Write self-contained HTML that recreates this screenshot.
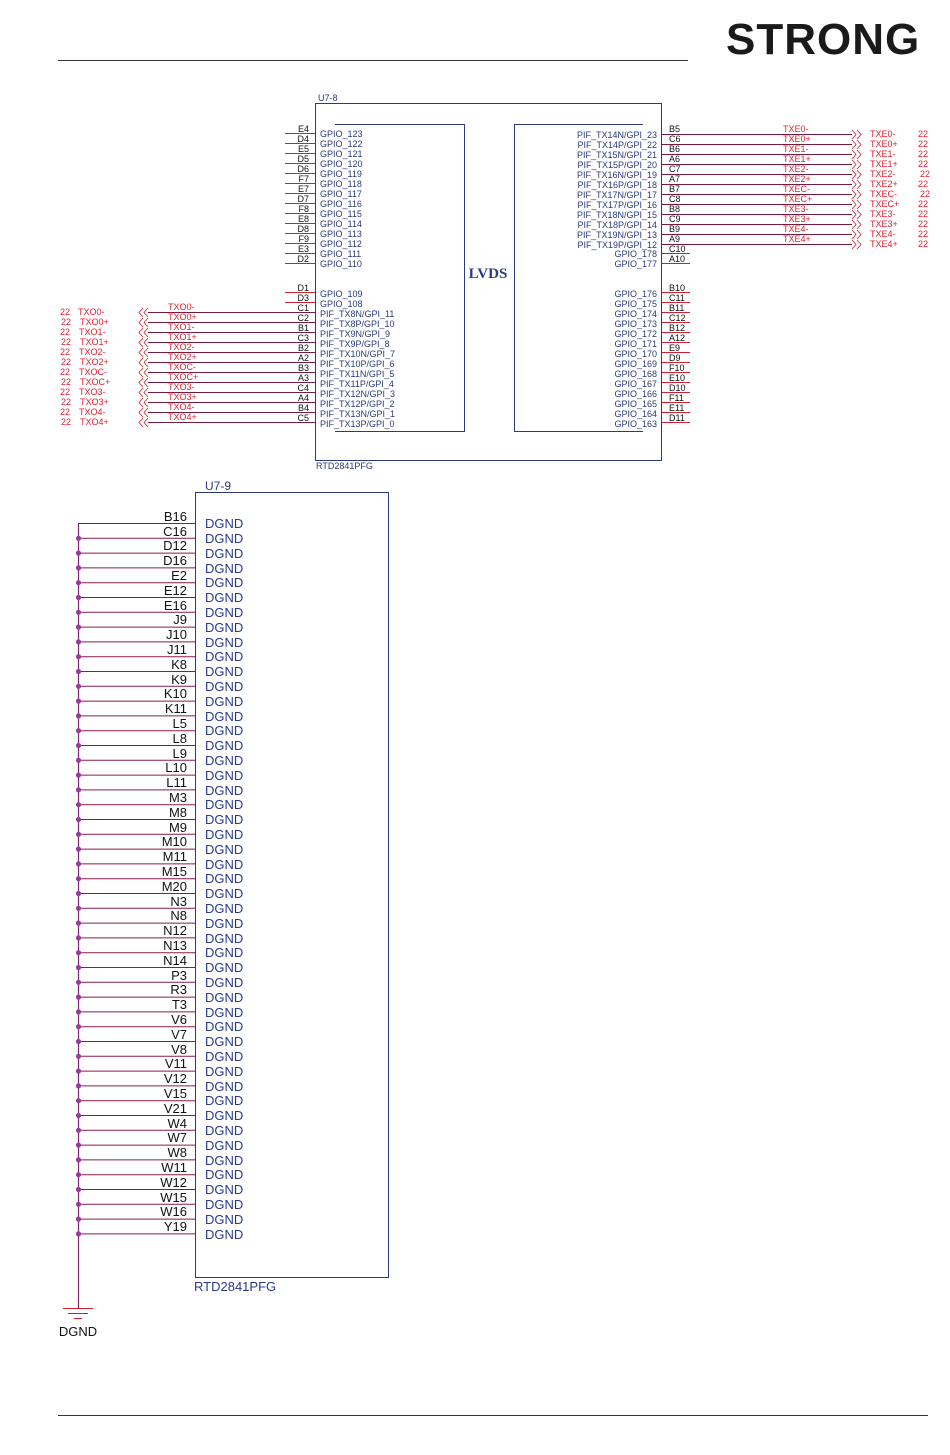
<!DOCTYPE html>
<html><head><meta charset="utf-8"><style>
html,body{margin:0;padding:0;background:#fff}
svg{display:block}
.s{font-family:"Liberation Sans",sans-serif;font-size:9px;fill:#2a3a7a}
.p{font-family:"Liberation Sans",sans-serif;font-size:9px;fill:#111}
.r{font-family:"Liberation Sans",sans-serif;font-size:9px;fill:#e02030}
.b{font-family:"Liberation Sans",sans-serif;font-size:13px;fill:#111}
.d{font-family:"Liberation Sans",sans-serif;font-size:13px;fill:#2a3a8a}
.w{stroke:#7a1a3a;stroke-width:1}
.st{stroke:#d02030;stroke-width:1}
</style></head><body>
<svg width="950" height="1455" viewBox="0 0 950 1455" xmlns="http://www.w3.org/2000/svg">
<text x="726" y="54" font-family="Liberation Sans,sans-serif" font-weight="bold" font-size="44" fill="#1a1a1a" letter-spacing="1">STRONG</text>
<line x1="58" y1="60.5" x2="688" y2="60.5" stroke="#333" stroke-width="1"/>
<line x1="58" y1="1415.5" x2="928" y2="1415.5" stroke="#333" stroke-width="1"/>

<!-- U7-8 -->
<text class="s" x="318" y="101">U7-8</text>
<rect x="315.5" y="103.5" width="346" height="357" fill="none" stroke="#2a3a7a"/>
<polyline points="335,124.5 464.5,124.5 464.5,431.5 335,431.5" fill="none" stroke="#2a3a7a"/>
<polyline points="643,124.5 514.5,124.5 514.5,431.5 643,431.5" fill="none" stroke="#2a3a7a"/>
<text x="488" y="278" text-anchor="middle" font-family="Liberation Serif,serif" font-weight="bold" font-size="15" fill="#2a3a8a">LVDS</text>
<text class="s" x="316" y="469">RTD2841PFG</text>

<g class="st">
<line x1="285" y1="133.5" x2="315" y2="133.5"/><line x1="285" y1="143.5" x2="315" y2="143.5"/><line x1="285" y1="153.5" x2="315" y2="153.5"/><line x1="285" y1="163.5" x2="315" y2="163.5"/><line x1="285" y1="173.5" x2="315" y2="173.5"/><line x1="285" y1="183.5" x2="315" y2="183.5"/><line x1="285" y1="193.5" x2="315" y2="193.5"/><line x1="285" y1="203.5" x2="315" y2="203.5"/><line x1="285" y1="213.5" x2="315" y2="213.5"/><line x1="285" y1="223.5" x2="315" y2="223.5"/><line x1="285" y1="233.5" x2="315" y2="233.5"/><line x1="285" y1="243.5" x2="315" y2="243.5"/><line x1="285" y1="253.5" x2="315" y2="253.5"/><line x1="285" y1="263.5" x2="315" y2="263.5"/>
<line x1="285" y1="292.5" x2="315" y2="292.5"/><line x1="285" y1="302.5" x2="315" y2="302.5"/>
<line x1="662" y1="253.5" x2="690" y2="253.5"/><line x1="662" y1="263.5" x2="690" y2="263.5"/>
<line x1="662" y1="292.5" x2="690" y2="292.5"/><line x1="662" y1="302.5" x2="690" y2="302.5"/><line x1="662" y1="312.5" x2="690" y2="312.5"/><line x1="662" y1="322.5" x2="690" y2="322.5"/><line x1="662" y1="332.5" x2="690" y2="332.5"/><line x1="662" y1="342.5" x2="690" y2="342.5"/><line x1="662" y1="352.5" x2="690" y2="352.5"/><line x1="662" y1="362.5" x2="690" y2="362.5"/><line x1="662" y1="372.5" x2="690" y2="372.5"/><line x1="662" y1="382.5" x2="690" y2="382.5"/><line x1="662" y1="392.5" x2="690" y2="392.5"/><line x1="662" y1="402.5" x2="690" y2="402.5"/><line x1="662" y1="412.5" x2="690" y2="412.5"/><line x1="662" y1="422.5" x2="690" y2="422.5"/>
</g>
<g class="w">
<line x1="148" y1="312.5" x2="315" y2="312.5"/><line x1="148" y1="322.5" x2="315" y2="322.5"/><line x1="148" y1="332.5" x2="315" y2="332.5"/><line x1="148" y1="342.5" x2="315" y2="342.5"/><line x1="148" y1="352.5" x2="315" y2="352.5"/><line x1="148" y1="362.5" x2="315" y2="362.5"/><line x1="148" y1="372.5" x2="315" y2="372.5"/><line x1="148" y1="382.5" x2="315" y2="382.5"/><line x1="148" y1="392.5" x2="315" y2="392.5"/><line x1="148" y1="402.5" x2="315" y2="402.5"/><line x1="148" y1="412.5" x2="315" y2="412.5"/><line x1="148" y1="422.5" x2="315" y2="422.5"/>
<line x1="662" y1="134.5" x2="852" y2="134.5"/><line x1="662" y1="144.5" x2="852" y2="144.5"/><line x1="662" y1="154.5" x2="852" y2="154.5"/><line x1="662" y1="164.5" x2="852" y2="164.5"/><line x1="662" y1="174.5" x2="852" y2="174.5"/><line x1="662" y1="184.5" x2="852" y2="184.5"/><line x1="662" y1="194.5" x2="852" y2="194.5"/><line x1="662" y1="204.5" x2="852" y2="204.5"/><line x1="662" y1="214.5" x2="852" y2="214.5"/><line x1="662" y1="224.5" x2="852" y2="224.5"/><line x1="662" y1="234.5" x2="852" y2="234.5"/><line x1="662" y1="244.5" x2="852" y2="244.5"/>
</g>
<!-- chevrons -->
<g fill="none" stroke="#d02030" stroke-width="0.8">
<path d="M143,308 l-4,4.5 l4,4.5 M148,308 l-4,4.5 l4,4.5"/><path d="M143,318 l-4,4.5 l4,4.5 M148,318 l-4,4.5 l4,4.5"/><path d="M143,328 l-4,4.5 l4,4.5 M148,328 l-4,4.5 l4,4.5"/><path d="M143,338 l-4,4.5 l4,4.5 M148,338 l-4,4.5 l4,4.5"/><path d="M143,348 l-4,4.5 l4,4.5 M148,348 l-4,4.5 l4,4.5"/><path d="M143,358 l-4,4.5 l4,4.5 M148,358 l-4,4.5 l4,4.5"/><path d="M143,368 l-4,4.5 l4,4.5 M148,368 l-4,4.5 l4,4.5"/><path d="M143,378 l-4,4.5 l4,4.5 M148,378 l-4,4.5 l4,4.5"/><path d="M143,388 l-4,4.5 l4,4.5 M148,388 l-4,4.5 l4,4.5"/><path d="M143,398 l-4,4.5 l4,4.5 M148,398 l-4,4.5 l4,4.5"/><path d="M143,408 l-4,4.5 l4,4.5 M148,408 l-4,4.5 l4,4.5"/><path d="M143,418 l-4,4.5 l4,4.5 M148,418 l-4,4.5 l4,4.5"/>
<path d="M852,130 l4,4.5 l-4,4.5 M857,130 l4,4.5 l-4,4.5"/><path d="M852,140 l4,4.5 l-4,4.5 M857,140 l4,4.5 l-4,4.5"/><path d="M852,150 l4,4.5 l-4,4.5 M857,150 l4,4.5 l-4,4.5"/><path d="M852,160 l4,4.5 l-4,4.5 M857,160 l4,4.5 l-4,4.5"/><path d="M852,170 l4,4.5 l-4,4.5 M857,170 l4,4.5 l-4,4.5"/><path d="M852,180 l4,4.5 l-4,4.5 M857,180 l4,4.5 l-4,4.5"/><path d="M852,190 l4,4.5 l-4,4.5 M857,190 l4,4.5 l-4,4.5"/><path d="M852,200 l4,4.5 l-4,4.5 M857,200 l4,4.5 l-4,4.5"/><path d="M852,210 l4,4.5 l-4,4.5 M857,210 l4,4.5 l-4,4.5"/><path d="M852,220 l4,4.5 l-4,4.5 M857,220 l4,4.5 l-4,4.5"/><path d="M852,230 l4,4.5 l-4,4.5 M857,230 l4,4.5 l-4,4.5"/><path d="M852,240 l4,4.5 l-4,4.5 M857,240 l4,4.5 l-4,4.5"/>
</g>

<!-- left pin numbers -->
<g class="p" text-anchor="end">
<text x="309" y="132">E4</text><text x="309" y="142">D4</text><text x="309" y="152">E5</text><text x="309" y="162">D5</text><text x="309" y="172">D6</text><text x="309" y="182">F7</text><text x="309" y="192">E7</text><text x="309" y="202">D7</text><text x="309" y="212">F8</text><text x="309" y="222">E8</text><text x="309" y="232">D8</text><text x="309" y="242">F9</text><text x="309" y="252">E3</text><text x="309" y="262">D2</text>
<text x="309" y="291">D1</text><text x="309" y="301">D3</text><text x="309" y="311">C1</text><text x="309" y="321">C2</text><text x="309" y="331">B1</text><text x="309" y="341">C3</text><text x="309" y="351">B2</text><text x="309" y="361">A2</text><text x="309" y="371">B3</text><text x="309" y="381">A3</text><text x="309" y="391">C4</text><text x="309" y="401">A4</text><text x="309" y="411">B4</text><text x="309" y="421">C5</text>
</g>
<g class="s">
<text x="320" y="137">GPIO_123</text><text x="320" y="147">GPIO_122</text><text x="320" y="157">GPIO_121</text><text x="320" y="167">GPIO_120</text><text x="320" y="177">GPIO_119</text><text x="320" y="187">GPIO_118</text><text x="320" y="197">GPIO_117</text><text x="320" y="207">GPIO_116</text><text x="320" y="217">GPIO_115</text><text x="320" y="227">GPIO_114</text><text x="320" y="237">GPIO_113</text><text x="320" y="247">GPIO_112</text><text x="320" y="257">GPIO_111</text><text x="320" y="267">GPIO_110</text>
<text x="320" y="297">GPIO_109</text><text x="320" y="307">GPIO_108</text><text x="320" y="317">PIF_TX8N/GPI_11</text><text x="320" y="327">PIF_TX8P/GPI_10</text><text x="320" y="337">PIF_TX9N/GPI_9</text><text x="320" y="347">PIF_TX9P/GPI_8</text><text x="320" y="357">PIF_TX10N/GPI_7</text><text x="320" y="367">PIF_TX10P/GPI_6</text><text x="320" y="377">PIF_TX11N/GPI_5</text><text x="320" y="387">PIF_TX11P/GPI_4</text><text x="320" y="397">PIF_TX12N/GPI_3</text><text x="320" y="407">PIF_TX12P/GPI_2</text><text x="320" y="417">PIF_TX13N/GPI_1</text><text x="320" y="427">PIF_TX13P/GPI_0</text>
</g>
<g class="s" text-anchor="end">
<text x="657" y="138">PIF_TX14N/GPI_23</text><text x="657" y="148">PIF_TX14P/GPI_22</text><text x="657" y="158">PIF_TX15N/GPI_21</text><text x="657" y="168">PIF_TX15P/GPI_20</text><text x="657" y="178">PIF_TX16N/GPI_19</text><text x="657" y="188">PIF_TX16P/GPI_18</text><text x="657" y="198">PIF_TX17N/GPI_17</text><text x="657" y="208">PIF_TX17P/GPI_16</text><text x="657" y="218">PIF_TX18N/GPI_15</text><text x="657" y="228">PIF_TX18P/GPI_14</text><text x="657" y="238">PIF_TX19N/GPI_13</text><text x="657" y="248">PIF_TX19P/GPI_12</text><text x="657" y="257">GPIO_178</text><text x="657" y="267">GPIO_177</text>
<text x="657" y="297">GPIO_176</text><text x="657" y="307">GPIO_175</text><text x="657" y="317">GPIO_174</text><text x="657" y="327">GPIO_173</text><text x="657" y="337">GPIO_172</text><text x="657" y="347">GPIO_171</text><text x="657" y="357">GPIO_170</text><text x="657" y="367">GPIO_169</text><text x="657" y="377">GPIO_168</text><text x="657" y="387">GPIO_167</text><text x="657" y="397">GPIO_166</text><text x="657" y="407">GPIO_165</text><text x="657" y="417">GPIO_164</text><text x="657" y="427">GPIO_163</text>
</g>
<g class="p">
<text x="669" y="132">B5</text><text x="669" y="142">C6</text><text x="669" y="152">B6</text><text x="669" y="162">A6</text><text x="669" y="172">C7</text><text x="669" y="182">A7</text><text x="669" y="192">B7</text><text x="669" y="202">C8</text><text x="669" y="212">B8</text><text x="669" y="222">C9</text><text x="669" y="232">B9</text><text x="669" y="242">A9</text><text x="669" y="252">C10</text><text x="669" y="262">A10</text>
<text x="669" y="291">B10</text><text x="669" y="301">C11</text><text x="669" y="311">B11</text><text x="669" y="321">C12</text><text x="669" y="331">B12</text><text x="669" y="341">A12</text><text x="669" y="351">E9</text><text x="669" y="361">D9</text><text x="669" y="371">F10</text><text x="669" y="381">E10</text><text x="669" y="391">D10</text><text x="669" y="401">F11</text><text x="669" y="411">E11</text><text x="669" y="421">D11</text>
</g>
<!-- net labels -->
<g class="r">
<text x="168" y="310">TXO0-</text><text x="168" y="320">TXO0+</text><text x="168" y="330">TXO1-</text><text x="168" y="340">TXO1+</text><text x="168" y="350">TXO2-</text><text x="168" y="360">TXO2+</text><text x="168" y="370">TXOC-</text><text x="168" y="380">TXOC+</text><text x="168" y="390">TXO3-</text><text x="168" y="400">TXO3+</text><text x="168" y="410">TXO4-</text><text x="168" y="420">TXO4+</text>
<text x="60" y="315">22</text><text x="78" y="315">TXO0-</text><text x="61" y="325">22</text><text x="80" y="325">TXO0+</text><text x="60" y="335">22</text><text x="79" y="335">TXO1-</text><text x="61" y="345">22</text><text x="80" y="345">TXO1+</text><text x="60" y="355">22</text><text x="79" y="355">TXO2-</text><text x="61" y="365">22</text><text x="80" y="365">TXO2+</text><text x="60" y="375">22</text><text x="79" y="375">TXOC-</text><text x="61" y="385">22</text><text x="80" y="385">TXOC+</text><text x="60" y="395">22</text><text x="79" y="395">TXO3-</text><text x="61" y="405">22</text><text x="80" y="405">TXO3+</text><text x="60" y="415">22</text><text x="79" y="415">TXO4-</text><text x="61" y="425">22</text><text x="80" y="425">TXO4+</text>
<text x="783" y="132">TXE0-</text><text x="783" y="142">TXE0+</text><text x="783" y="152">TXE1-</text><text x="783" y="162">TXE1+</text><text x="783" y="172">TXE2-</text><text x="783" y="182">TXE2+</text><text x="783" y="192">TXEC-</text><text x="783" y="202">TXEC+</text><text x="783" y="212">TXE3-</text><text x="783" y="222">TXE3+</text><text x="783" y="232">TXE4-</text><text x="783" y="242">TXE4+</text>
<text x="870" y="137">TXE0-</text><text x="918" y="137">22</text><text x="870" y="147">TXE0+</text><text x="918" y="147">22</text><text x="870" y="157">TXE1-</text><text x="918" y="157">22</text><text x="870" y="167">TXE1+</text><text x="918" y="167">22</text><text x="870" y="177">TXE2-</text><text x="920" y="177">22</text><text x="870" y="187">TXE2+</text><text x="918" y="187">22</text><text x="870" y="197">TXEC-</text><text x="920" y="197">22</text><text x="870" y="207">TXEC+</text><text x="918" y="207">22</text><text x="870" y="217">TXE3-</text><text x="918" y="217">22</text><text x="870" y="227">TXE3+</text><text x="918" y="227">22</text><text x="870" y="237">TXE4-</text><text x="918" y="237">22</text><text x="870" y="247">TXE4+</text><text x="918" y="247">22</text>
</g>

<!-- U7-9 -->
<text x="205" y="490" font-family="Liberation Sans,sans-serif" font-size="12" fill="#2a3a8a">U7-9</text>
<rect x="195.5" y="492.5" width="193" height="785" fill="none" stroke="#2a3a7a"/>
<text x="194" y="1291" font-family="Liberation Sans,sans-serif" font-size="13" fill="#2a3a8a">RTD2841PFG</text>
<line x1="78.5" y1="523" x2="78.5" y2="1308" stroke="#7a2a6a" stroke-width="1.2"/>
<line x1="63" y1="1308.5" x2="93" y2="1308.5" stroke="#d02030"/>
<line x1="68" y1="1313.5" x2="88" y2="1313.5" stroke="#d02030"/>
<line x1="74" y1="1318.5" x2="82" y2="1318.5" stroke="#d02030"/>
<text x="78" y="1336" text-anchor="middle" class="b">DGND</text>
<g stroke="#8a1a4a" stroke-width="1">
<line x1="78" y1="523.5" x2="195" y2="523.5"/><line x1="78" y1="538.3" x2="195" y2="538.3"/><line x1="78" y1="553.1" x2="195" y2="553.1"/><line x1="78" y1="567.9" x2="195" y2="567.9"/><line x1="78" y1="582.7" x2="195" y2="582.7"/><line x1="78" y1="597.5" x2="195" y2="597.5"/><line x1="78" y1="612.3" x2="195" y2="612.3"/><line x1="78" y1="627.1" x2="195" y2="627.1"/><line x1="78" y1="641.9" x2="195" y2="641.9"/><line x1="78" y1="656.7" x2="195" y2="656.7"/><line x1="78" y1="671.5" x2="195" y2="671.5"/><line x1="78" y1="686.3" x2="195" y2="686.3"/><line x1="78" y1="701.1" x2="195" y2="701.1"/><line x1="78" y1="715.9" x2="195" y2="715.9"/><line x1="78" y1="730.7" x2="195" y2="730.7"/><line x1="78" y1="745.5" x2="195" y2="745.5"/><line x1="78" y1="760.3" x2="195" y2="760.3"/><line x1="78" y1="775.1" x2="195" y2="775.1"/><line x1="78" y1="789.9" x2="195" y2="789.9"/><line x1="78" y1="804.7" x2="195" y2="804.7"/><line x1="78" y1="819.5" x2="195" y2="819.5"/><line x1="78" y1="834.3" x2="195" y2="834.3"/><line x1="78" y1="849.1" x2="195" y2="849.1"/><line x1="78" y1="863.9" x2="195" y2="863.9"/><line x1="78" y1="878.7" x2="195" y2="878.7"/><line x1="78" y1="893.5" x2="195" y2="893.5"/><line x1="78" y1="908.3" x2="195" y2="908.3"/><line x1="78" y1="923.1" x2="195" y2="923.1"/><line x1="78" y1="937.9" x2="195" y2="937.9"/><line x1="78" y1="952.7" x2="195" y2="952.7"/><line x1="78" y1="967.5" x2="195" y2="967.5"/><line x1="78" y1="982.3" x2="195" y2="982.3"/><line x1="78" y1="997.1" x2="195" y2="997.1"/><line x1="78" y1="1011.9" x2="195" y2="1011.9"/><line x1="78" y1="1026.7" x2="195" y2="1026.7"/><line x1="78" y1="1041.5" x2="195" y2="1041.5"/><line x1="78" y1="1056.3" x2="195" y2="1056.3"/><line x1="78" y1="1071.1" x2="195" y2="1071.1"/><line x1="78" y1="1085.9" x2="195" y2="1085.9"/><line x1="78" y1="1100.7" x2="195" y2="1100.7"/><line x1="78" y1="1115.5" x2="195" y2="1115.5"/><line x1="78" y1="1130.3" x2="195" y2="1130.3"/><line x1="78" y1="1145.1" x2="195" y2="1145.1"/><line x1="78" y1="1159.9" x2="195" y2="1159.9"/><line x1="78" y1="1174.7" x2="195" y2="1174.7"/><line x1="78" y1="1189.5" x2="195" y2="1189.5"/><line x1="78" y1="1204.3" x2="195" y2="1204.3"/><line x1="78" y1="1219.1" x2="195" y2="1219.1"/><line x1="78" y1="1233.9" x2="195" y2="1233.9"/>
</g>
<g fill="#9a3a9a">
<circle cx="78.5" cy="538.3" r="2.6"/><circle cx="78.5" cy="553.1" r="2.6"/><circle cx="78.5" cy="567.9" r="2.6"/><circle cx="78.5" cy="582.7" r="2.6"/><circle cx="78.5" cy="597.5" r="2.6"/><circle cx="78.5" cy="612.3" r="2.6"/><circle cx="78.5" cy="627.1" r="2.6"/><circle cx="78.5" cy="641.9" r="2.6"/><circle cx="78.5" cy="656.7" r="2.6"/><circle cx="78.5" cy="671.5" r="2.6"/><circle cx="78.5" cy="686.3" r="2.6"/><circle cx="78.5" cy="701.1" r="2.6"/><circle cx="78.5" cy="715.9" r="2.6"/><circle cx="78.5" cy="730.7" r="2.6"/><circle cx="78.5" cy="745.5" r="2.6"/><circle cx="78.5" cy="760.3" r="2.6"/><circle cx="78.5" cy="775.1" r="2.6"/><circle cx="78.5" cy="789.9" r="2.6"/><circle cx="78.5" cy="804.7" r="2.6"/><circle cx="78.5" cy="819.5" r="2.6"/><circle cx="78.5" cy="834.3" r="2.6"/><circle cx="78.5" cy="849.1" r="2.6"/><circle cx="78.5" cy="863.9" r="2.6"/><circle cx="78.5" cy="878.7" r="2.6"/><circle cx="78.5" cy="893.5" r="2.6"/><circle cx="78.5" cy="908.3" r="2.6"/><circle cx="78.5" cy="923.1" r="2.6"/><circle cx="78.5" cy="937.9" r="2.6"/><circle cx="78.5" cy="952.7" r="2.6"/><circle cx="78.5" cy="967.5" r="2.6"/><circle cx="78.5" cy="982.3" r="2.6"/><circle cx="78.5" cy="997.1" r="2.6"/><circle cx="78.5" cy="1011.9" r="2.6"/><circle cx="78.5" cy="1026.7" r="2.6"/><circle cx="78.5" cy="1041.5" r="2.6"/><circle cx="78.5" cy="1056.3" r="2.6"/><circle cx="78.5" cy="1071.1" r="2.6"/><circle cx="78.5" cy="1085.9" r="2.6"/><circle cx="78.5" cy="1100.7" r="2.6"/><circle cx="78.5" cy="1115.5" r="2.6"/><circle cx="78.5" cy="1130.3" r="2.6"/><circle cx="78.5" cy="1145.1" r="2.6"/><circle cx="78.5" cy="1159.9" r="2.6"/><circle cx="78.5" cy="1174.7" r="2.6"/><circle cx="78.5" cy="1189.5" r="2.6"/><circle cx="78.5" cy="1204.3" r="2.6"/><circle cx="78.5" cy="1219.1" r="2.6"/><circle cx="78.5" cy="1233.9" r="2.6"/>
</g>
<g class="b" text-anchor="end">
<text x="187" y="521">B16</text><text x="187" y="536">C16</text><text x="187" y="550">D12</text><text x="187" y="565">D16</text><text x="187" y="580">E2</text><text x="187" y="595">E12</text><text x="187" y="610">E16</text><text x="187" y="624">J9</text><text x="187" y="639">J10</text><text x="187" y="654">J11</text><text x="187" y="669">K8</text><text x="187" y="684">K9</text><text x="187" y="698">K10</text><text x="187" y="713">K11</text><text x="187" y="728">L5</text><text x="187" y="743">L8</text><text x="187" y="758">L9</text><text x="187" y="772">L10</text><text x="187" y="787">L11</text><text x="187" y="802">M3</text><text x="187" y="817">M8</text><text x="187" y="832">M9</text><text x="187" y="846">M10</text><text x="187" y="861">M11</text><text x="187" y="876">M15</text><text x="187" y="891">M20</text><text x="187" y="906">N3</text><text x="187" y="920">N8</text><text x="187" y="935">N12</text><text x="187" y="950">N13</text><text x="187" y="965">N14</text><text x="187" y="980">P3</text><text x="187" y="994">R3</text><text x="187" y="1009">T3</text><text x="187" y="1024">V6</text><text x="187" y="1039">V7</text><text x="187" y="1054">V8</text><text x="187" y="1068">V11</text><text x="187" y="1083">V12</text><text x="187" y="1098">V15</text><text x="187" y="1113">V21</text><text x="187" y="1128">W4</text><text x="187" y="1142">W7</text><text x="187" y="1157">W8</text><text x="187" y="1172">W11</text><text x="187" y="1187">W12</text><text x="187" y="1202">W15</text><text x="187" y="1216">W16</text><text x="187" y="1231">Y19</text>
</g>
<g class="d">
<text x="205" y="528">DGND</text><text x="205" y="543">DGND</text><text x="205" y="558">DGND</text><text x="205" y="573">DGND</text><text x="205" y="587">DGND</text><text x="205" y="602">DGND</text><text x="205" y="617">DGND</text><text x="205" y="632">DGND</text><text x="205" y="647">DGND</text><text x="205" y="661">DGND</text><text x="205" y="676">DGND</text><text x="205" y="691">DGND</text><text x="205" y="706">DGND</text><text x="205" y="721">DGND</text><text x="205" y="735">DGND</text><text x="205" y="750">DGND</text><text x="205" y="765">DGND</text><text x="205" y="780">DGND</text><text x="205" y="795">DGND</text><text x="205" y="809">DGND</text><text x="205" y="824">DGND</text><text x="205" y="839">DGND</text><text x="205" y="854">DGND</text><text x="205" y="869">DGND</text><text x="205" y="883">DGND</text><text x="205" y="898">DGND</text><text x="205" y="913">DGND</text><text x="205" y="928">DGND</text><text x="205" y="943">DGND</text><text x="205" y="957">DGND</text><text x="205" y="972">DGND</text><text x="205" y="987">DGND</text><text x="205" y="1002">DGND</text><text x="205" y="1017">DGND</text><text x="205" y="1031">DGND</text><text x="205" y="1046">DGND</text><text x="205" y="1061">DGND</text><text x="205" y="1076">DGND</text><text x="205" y="1091">DGND</text><text x="205" y="1105">DGND</text><text x="205" y="1120">DGND</text><text x="205" y="1135">DGND</text><text x="205" y="1150">DGND</text><text x="205" y="1165">DGND</text><text x="205" y="1179">DGND</text><text x="205" y="1194">DGND</text><text x="205" y="1209">DGND</text><text x="205" y="1224">DGND</text><text x="205" y="1239">DGND</text>
</g>
</svg>
</body></html>
